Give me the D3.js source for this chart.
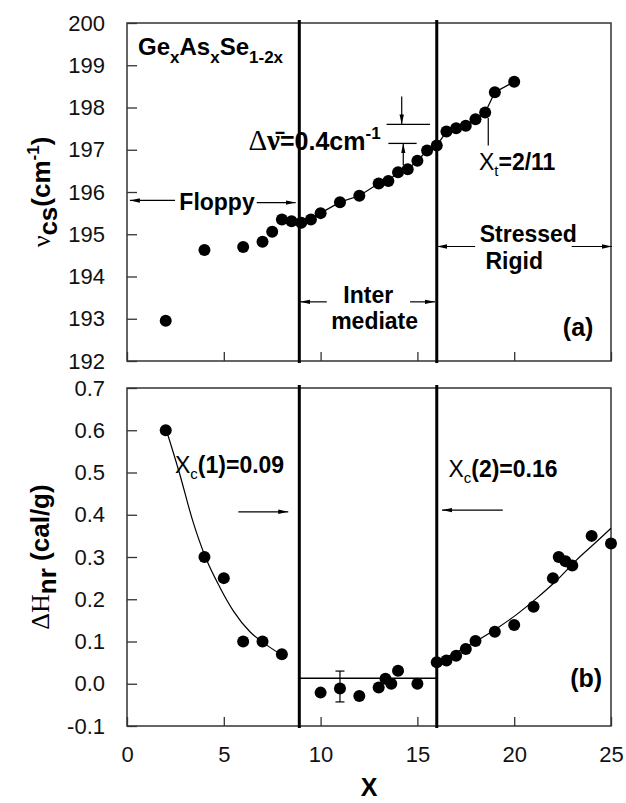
<!DOCTYPE html>
<html><head><meta charset="utf-8">
<script src="https://cdn.jsdelivr.net/npm/d3@7"></script>
<style>
html,body{margin:0;padding:0;background:#fff;}
svg text{font-family:"Liberation Sans",Arial,sans-serif;}
</style></head>
<body><svg id="c" width="626" height="803"></svg>
<script>
// ---------- data ----------
const xTicks = [0, 5, 10, 15, 20, 25];
const topTicks = [192, 193, 194, 195, 196, 197, 198, 199, 200];
const botTicks = [-0.1, 0.0, 0.1, 0.2, 0.3, 0.4, 0.5, 0.6, 0.7];
const botTickLabels = ['-0.1', '0.0', '0.1', '0.2', '0.3', '0.4', '0.5', '0.6', '0.7'];
const boundaries = [8.9, 16];

// (a) Raman mode frequency nu_cs (cm^-1)
const topX = [2, 4, 6, 7, 7.5, 8, 8.5, 9, 9.5, 10, 11, 12, 13, 13.5, 14, 14.5, 15, 15.5, 16, 16.5, 17, 17.5, 18, 18.5, 19, 20];
const topY = [192.95, 194.63, 194.70, 194.82, 195.06, 195.35, 195.31, 195.27, 195.35, 195.50, 195.76, 195.91, 196.20, 196.26, 196.47, 196.54, 196.74, 196.98, 197.10, 197.43, 197.51, 197.57, 197.72, 197.88, 198.36, 198.61];
const topLineFrom = 8.5;

// (b) non-reversing enthalpy dH_nr (cal/g)
const botX = [2, 4, 5, 6, 7, 8, 10, 11, 12, 13, 13.35, 13.65, 14, 15, 16, 16.5, 17, 17.5, 18, 19, 20, 21, 22, 22.3, 22.65, 23, 24, 25];
const botY = [0.60, 0.30, 0.25, 0.10, 0.10, 0.07, -0.021, -0.011, -0.029, -0.009, 0.012, 0.0, 0.031, 0.0, 0.051, 0.055, 0.066, 0.082, 0.101, 0.123, 0.139, 0.182, 0.25, 0.30, 0.29, 0.28, 0.35, 0.332];
const errX = [11];
const errLo = [-0.043];
const errHi = [0.030];
const flatLevel = 0.013;

// guide curves
const fitLX = [2.0, 2.7, 3.4, 4.05, 4.8, 5.5, 6.35, 7.2, 8.0];
const fitLY = [0.605, 0.50, 0.385, 0.30, 0.228, 0.172, 0.123, 0.092, 0.068];
const fitRX = [16.0, 17.0, 18.0, 19.1, 20.1, 21.15, 22.2, 23.2, 24.25, 25.0];
const fitRY = [0.053, 0.074, 0.100, 0.131, 0.163, 0.202, 0.245, 0.292, 0.336, 0.368];

// ---------- layout ----------
const L = 127, R = 611;
const topT = 23, topB = 361, botT = 388, botB = 726;
const svg = d3.select('#c');
const SANS = '"Liberation Sans",Arial,sans-serif';
const SERIF = '"Liberation Serif","Times New Roman",serif';

const x = d3.scaleLinear().domain([0, 25]).range([L, R]);
const yT = d3.scaleLinear().domain([192, 200]).range([topB, topT]);
const yB = d3.scaleLinear().domain([-0.1, 0.7]).range([botB, botT]);

const defs = svg.append('defs');
defs.append('marker').attr('id', 'ah').attr('viewBox', '0 0 10 6')
  .attr('refX', 10).attr('refY', 3).attr('markerWidth', 10).attr('markerHeight', 6)
  .attr('markerUnits', 'userSpaceOnUse').attr('orient', 'auto')
  .append('path').attr('d', 'M0,0.8 L10,3 L0,5.2 Z').attr('fill', '#000');

function panel(y, T, B, ticks, fmt) {
  const g = svg.append('g');
  g.append('rect').attr('x', L).attr('y', T).attr('width', R - L).attr('height', B - T)
    .attr('fill', 'none').attr('stroke', '#333').attr('stroke-width', 1.5);
  const ya = d3.axisLeft(y).tickValues(ticks).tickSize(-10).tickPadding(22).tickFormat(fmt);
  const yg = g.append('g').attr('transform', `translate(${L},0)`).call(ya);
  yg.select('.domain').remove();
  yg.selectAll('line').attr('stroke', '#333').attr('stroke-width', 1.3);
  yg.selectAll('text').attr('font-size', 22).attr('font-family', SANS).attr('fill', '#111');
  const xa = d3.axisBottom(x).tickValues(xTicks).tickSize(-9).tickPadding(20).tickFormat(d3.format('d'));
  const xg = g.append('g').attr('transform', `translate(0,${B})`).call(xa);
  xg.select('.domain').remove();
  xg.selectAll('line').attr('stroke', '#333').attr('stroke-width', 1.3);
  xg.selectAll('text').attr('font-size', 22).attr('font-family', SANS).attr('fill', '#111');
  g.selectAll('line.bd').data(boundaries).enter().append('line').attr('class', 'bd')
    .attr('x1', d => x(d)).attr('x2', d => x(d)).attr('y1', T - 3).attr('y2', B + 2)
    .attr('stroke', '#000').attr('stroke-width', 3);
  return {g, xg};
}

const pT = panel(yT, topT, topB, topTicks, d3.format('d'));
pT.xg.selectAll('text').remove();
const pB = panel(yB, botT, botB, botTicks, (d, i) => botTickLabels[i]);

function arrow(x1, y1, x2, y2, head = true) {
  const l = svg.append('line').attr('x1', x1).attr('y1', y1).attr('x2', x2).attr('y2', y2)
    .attr('stroke', '#000').attr('stroke-width', 1.2);
  if (head) l.attr('marker-end', 'url(#ah)');
}

// ---------- panel (a) ----------
const topPts = topX.map((d, i) => [d, topY[i]]);
svg.append('path').datum(topPts.filter(p => p[0] >= topLineFrom))
  .attr('d', d3.line().x(p => x(p[0])).y(p => yT(p[1])))
  .attr('fill', 'none').attr('stroke', '#000').attr('stroke-width', 1.2);
svg.append('g').selectAll('circle').data(topPts).enter().append('circle')
  .attr('cx', p => x(p[0])).attr('cy', p => yT(p[1])).attr('r', 6).attr('fill', '#000');

// ---------- panel (b) ----------
const fitLine = d3.line().x(p => x(p[0])).y(p => yB(p[1])).curve(d3.curveMonotoneX);
svg.append('path').datum(fitLX.map((d, i) => [d, fitLY[i]])).attr('d', fitLine)
  .attr('fill', 'none').attr('stroke', '#000').attr('stroke-width', 1.2);
svg.append('path').datum(fitRX.map((d, i) => [d, fitRY[i]])).attr('d', fitLine)
  .attr('fill', 'none').attr('stroke', '#000').attr('stroke-width', 1.2);
svg.append('line').attr('x1', x(boundaries[0])).attr('x2', x(boundaries[1]))
  .attr('y1', yB(flatLevel)).attr('y2', yB(flatLevel)).attr('stroke', '#000').attr('stroke-width', 1.3);
errX.forEach((ex, i) => {
  const gx = x(ex);
  svg.append('line').attr('x1', gx).attr('x2', gx).attr('y1', yB(errLo[i])).attr('y2', yB(errHi[i])).attr('stroke', '#000').attr('stroke-width', 1.2);
  [errLo[i], errHi[i]].forEach(v => svg.append('line').attr('x1', gx - 4.5).attr('x2', gx + 4.5)
    .attr('y1', yB(v)).attr('y2', yB(v)).attr('stroke', '#000').attr('stroke-width', 1.2));
});
svg.append('g').selectAll('circle').data(botX.map((d, i) => [d, botY[i]])).enter().append('circle')
  .attr('cx', p => x(p[0])).attr('cy', p => yB(p[1])).attr('r', 6).attr('fill', '#000');

// ---------- annotations (a) ----------
function txt(px, py, size, anchor = 'start', weight = 'bold') {
  return svg.append('text').attr('x', px).attr('y', py).attr('font-size', size)
    .attr('font-weight', weight).attr('text-anchor', anchor).attr('fill', '#000');
}
let t = txt(x(0.57), yT(199.24), 24);
t.append('tspan').text('Ge');
t.append('tspan').attr('dy', 8).attr('font-size', 17).text('x');
t.append('tspan').attr('dy', -8).text('As');
t.append('tspan').attr('dy', 8).attr('font-size', 17).text('x');
t.append('tspan').attr('dy', -8).text('Se');
t.append('tspan').attr('dy', 8).attr('font-size', 17).text('1-2x');

txt(x(4.65), yT(195.57), 23, 'middle').text('Floppy');
arrow(x(2.48), yT(195.80), x(0.15), yT(195.80));
arrow(x(6.70), yT(195.75), x(8.71), yT(195.75));

txt(x(12.46), yT(193.38), 23, 'middle').text('Inter');
txt(x(12.79), yT(192.75), 23, 'middle').text('mediate');
arrow(x(10.32), yT(193.40), x(8.94), yT(193.40));
arrow(x(14.62), yT(193.40), x(15.91), yT(193.40));

txt(x(20.73), yT(194.82), 23, 'middle').text('Stressed');
txt(x(20.0), yT(194.17), 23, 'middle').text('Rigid');
arrow(x(17.98), yT(194.71), x(16.02), yT(194.71));
arrow(x(22.97), yT(194.71), x(25.05), yT(194.71));

txt(x(24.09), yT(192.58), 25, 'end').text('(a)');

t = txt(x(6.27), yT(196.99), 25);
t.append('tspan').attr('font-family', SERIF).attr('font-size', 29).attr('font-weight', 'normal').text('Δ');
t.append('tspan').attr('font-family', SERIF).attr('font-size', 29).attr('font-weight', 'bold').text('ν\u0304');
t.append('tspan').text('=0.4cm');
t.append('tspan').attr('dy', -11).attr('font-size', 17).text('-1');
svg.append('line').attr('x1', x(13.41)).attr('x2', x(15.65)).attr('y1', yT(197.60)).attr('y2', yT(197.60)).attr('stroke', '#000').attr('stroke-width', 1.3);
svg.append('line').attr('x1', x(13.50)).attr('x2', x(14.96)).attr('y1', yT(197.15)).attr('y2', yT(197.15)).attr('stroke', '#000').attr('stroke-width', 1.3);
arrow(x(14.19), yT(198.26), x(14.19), yT(197.60));
arrow(x(14.27), yT(196.64), x(14.27), yT(197.15));

t = txt(x(18.18), yT(196.52), 23);
t.append('tspan').attr('font-weight', 'normal').text('X');
t.append('tspan').attr('dy', 6).attr('font-size', 15).attr('font-weight', 'normal').text('t');
t.append('tspan').attr('dy', -6).text('=2/11');
arrow(x(18.66), yT(197.10), x(18.66), yT(197.75), false);

// ---------- annotations (b) ----------
t = txt(x(2.48), yB(0.498), 23);
t.append('tspan').attr('font-weight', 'normal').text('X');
t.append('tspan').attr('dy', 6).attr('font-size', 15).attr('font-weight', 'normal').text('c');
t.append('tspan').attr('dy', -6).text('(1)=0.09');
arrow(x(5.75), yB(0.407), x(8.33), yB(0.407));

t = txt(x(16.6), yB(0.49), 23);
t.append('tspan').attr('font-weight', 'normal').text('X');
t.append('tspan').attr('dy', 6).attr('font-size', 15).attr('font-weight', 'normal').text('c');
t.append('tspan').attr('dy', -6).text('(2)=0.16');
arrow(x(19.41), yB(0.411), x(16.27), yB(0.411));

txt(x(24.54), yB(-0.008), 25, 'end').text('(b)');

// ---------- axis titles ----------
t = svg.append('text').attr('transform', `translate(50,${(topT + topB) / 2}) rotate(-90)`)
  .attr('text-anchor', 'middle').attr('font-size', 26).attr('font-weight', 'bold');
t.append('tspan').attr('font-family', SERIF).attr('font-weight', 'normal').text('ν');
t.append('tspan').attr('dy', 7).text('cs');
t.append('tspan').attr('dy', -7).text('(cm');
t.append('tspan').attr('dy', -11).attr('font-size', 17).text('-1');
t.append('tspan').attr('dy', 11).text(')');

t = svg.append('text').attr('transform', `translate(49,${(botT + botB) / 2}) rotate(-90)`)
  .attr('text-anchor', 'middle').attr('font-size', 26).attr('font-weight', 'bold');
t.append('tspan').attr('font-family', SERIF).attr('font-weight', 'normal').text('ΔH');
t.append('tspan').attr('dy', 7).text('nr');
t.append('tspan').attr('dy', -7).text(' (cal/g)');

svg.append('text').attr('x', (L + R) / 2).attr('y', 796).attr('text-anchor', 'middle')
  .attr('font-size', 25).attr('font-weight', 'bold').text('X');
</script></body></html>
